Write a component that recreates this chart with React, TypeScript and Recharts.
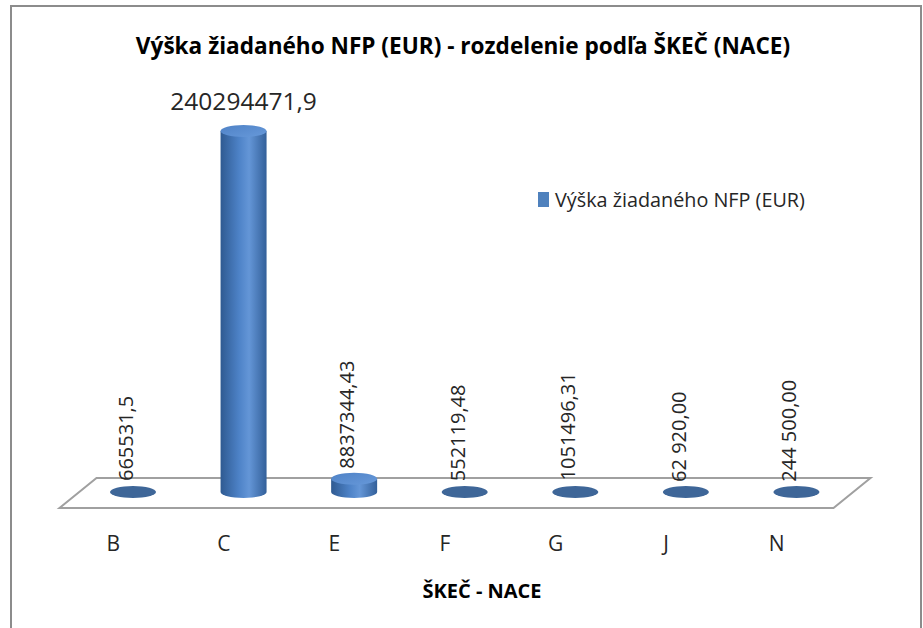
import { BarChart, Bar, XAxis, YAxis, Legend, Customized } from 'recharts';

const categories = ['B', 'C', 'E', 'F', 'G', 'J', 'N'];
const values = [665531.5, 240294471.9, 8837344.43, 552119.48, 1051496.31, 62920, 244500];
const valueLabels = ['665531,5', '240294471,9', '8837344,43', '552119,48', '1051496,31', '62 920,00', '244 500,00'];
const seriesName = 'Výška žiadaného NFP (EUR)';
const chartTitle = 'Výška žiadaného NFP (EUR) - rozdelenie podľa ŠKEČ (NACE)';
const axisTitle = 'ŠKEČ - NACE';

const chartData = categories.map((c, i) => ({ code: c, value: values[i], label: valueLabels[i] }));
const maxValue = Math.max(...values);

const W = 923;
const H = 628;
const M = { top: 131, right: 71, bottom: 76, left: 78 };
const AXIS_H = 60;
const BASE_Y = H - M.bottom - AXIS_H;
const DEPTH = 18.5;
const FONT = '"Open Sans", sans-serif';

const Floor = () => {
  const l = M.left;
  const r = W - M.right;
  const back = BASE_Y - 14;
  const front = BASE_Y + 16;
  return (
    <g>
      <defs>
        <linearGradient id="cylBody" x1="0" y1="0" x2="1" y2="0">
          <stop offset="0%" stopColor="#2f5a91" />
          <stop offset="40%" stopColor="#4d82c7" />
          <stop offset="62%" stopColor="#6496d7" />
          <stop offset="100%" stopColor="#33609a" />
        </linearGradient>
        <linearGradient id="cylTop" x1="0" y1="0" x2="1" y2="1">
          <stop offset="0%" stopColor="#4f82c6" />
          <stop offset="100%" stopColor="#6799da" />
        </linearGradient>
      </defs>
      <polygon
        points={`${l + DEPTH},${back} ${r + DEPTH},${back} ${r - DEPTH},${front} ${l - DEPTH},${front}`}
        fill="#fff"
        stroke="#a0a0a0"
        strokeWidth={2}
      />
      <text x={463} y={54} textAnchor="middle" fontFamily={FONT} fontWeight="bold" fontSize={22.6} fill="#000">
        {chartTitle}
      </text>
      <text x={482} y={598} textAnchor="middle" fontFamily={FONT} fontWeight="bold" fontSize={20} fill="#000">
        {axisTitle}
      </text>
    </g>
  );
};

const Cylinder = (props: any) => {
  const { x, y, width, height, payload } = props;
  const cx = x + width / 2;
  const rx = width / 2;
  const ry = 6;
  const bottom = y + height;
  const tall = height > 3;
  const flat = payload.value < maxValue;
  const ly = y - ry - 4;
  return (
    <g>
      {tall ? (
        <>
          <path
            d={`M${cx - rx},${y} L${cx - rx},${bottom} A${rx},${ry} 0 0 0 ${cx + rx},${bottom} L${cx + rx},${y} Z`}
            fill="url(#cylBody)"
          />
          <ellipse cx={cx} cy={y} rx={rx} ry={ry} fill="url(#cylTop)" />
        </>
      ) : (
        <ellipse cx={cx} cy={bottom} rx={rx} ry={ry} fill="#3e6698" />
      )}
      {flat ? (
        <text x={cx} y={ly} transform={`rotate(-90, ${cx}, ${ly})`} textAnchor="start"
          fontFamily={FONT} fontSize={20} fill="#262626">
          {payload.label}
        </text>
      ) : (
        <text x={cx} y={y - 21} textAnchor="middle" fontFamily={FONT} fontSize={24.5} fill="#262626">
          {payload.label}
        </text>
      )}
    </g>
  );
};

const CategoryTick = (props: any) => {
  const { x, y, payload } = props;
  return (
    <text x={x - 20} y={y + 59} textAnchor="middle" fontFamily={FONT} fontSize={21} fill="#262626">
      {payload.value}
    </text>
  );
};

const LegendBox = () => (
  <div style={{ display: 'flex', alignItems: 'center', fontFamily: FONT, fontSize: 19.8, color: '#262626' }}>
    <span style={{ display: 'inline-block', width: 11, height: 15, background: '#4f81bd', marginRight: 6 }} />
    <span>{seriesName}</span>
  </div>
);

export default function App() {
  return (
    <div style={{ position: 'absolute', left: 0, top: 0, width: W, height: H, overflow: 'hidden', background: '#fff' }}>
      <div style={{ position: 'absolute', left: 10, top: 5, width: 908, height: 700, border: '2px solid #8c8c8c' }} />
      <div style={{ position: 'absolute', left: 0, top: 0 }}>
        <BarChart width={W} height={H} data={chartData} margin={M}>
          <Customized component={<Floor />} />
          <XAxis dataKey="code" axisLine={false} tickLine={false} tickSize={0} tickMargin={0}
            height={AXIS_H} tick={<CategoryTick />} interval={0} />
          <YAxis hide domain={[0, maxValue]} />
          <Legend layout="vertical" align="center" verticalAlign="middle"
            wrapperStyle={{ left: 538, top: 186, width: 320 }} content={<LegendBox />} />
          <Bar dataKey="value" name={seriesName} barSize={46} shape={<Cylinder />} isAnimationActive={false} />
        </BarChart>
      </div>
    </div>
  );
}
